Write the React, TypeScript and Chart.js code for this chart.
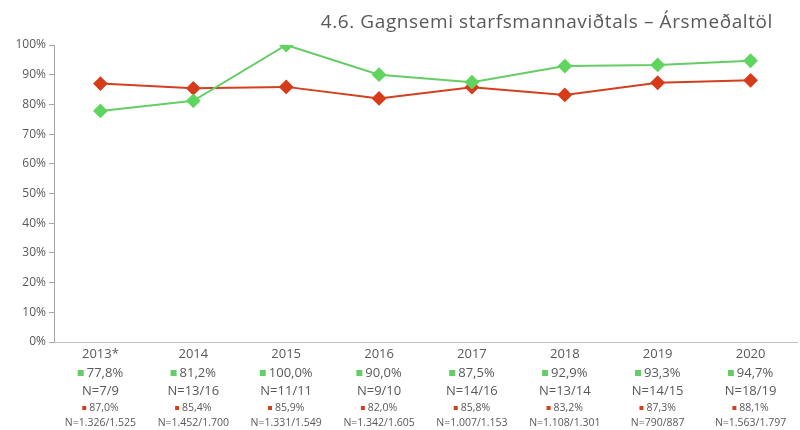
import React, { useEffect, useRef } from 'react';
import { Chart, registerables } from 'chart.js';
Chart.register(...registerables);

const categories = ['2013*', '2014', '2015', '2016', '2017', '2018', '2019', '2020'];
const greenValues = [77.8, 81.2, 100.0, 90.0, 87.5, 92.9, 93.3, 94.7];
const greenN = ['N=7/9', 'N=13/16', 'N=11/11', 'N=9/10', 'N=14/16', 'N=13/14', 'N=14/15', 'N=18/19'];
const redValues = [87.0, 85.4, 85.9, 82.0, 85.8, 83.2, 87.3, 88.1];
const redN = ['N=1.326/1.525', 'N=1.452/1.700', 'N=1.331/1.549', 'N=1.342/1.605', 'N=1.007/1.153', 'N=1.108/1.301', 'N=790/887', 'N=1.563/1.797'];
const titleText = '4.6. Gagnsemi starfsmannaviðtals – Ársmeðaltöl';

const GREEN = '#66cc66';
const GREEN_PT = '#5fd55f';
const RED = '#d2401e';
const RED_PT = '#d63b1a';
const TEXT = '#595959';
const FONT = '"Open Sans", sans-serif';

const fmt = (v: number) => v.toFixed(1).replace('.', ',') + '%';

const labelPlugin = {
  id: 'labelPlugin',
  afterDraw(chart: any) {
    const ctx = chart.ctx;
    const xs = chart.scales.x;
    ctx.save();
    ctx.textBaseline = 'middle';
    // title
    ctx.font = `19px ${FONT}`;
    ctx.fillStyle = TEXT;
    ctx.textAlign = 'right';
    try { (ctx as any).letterSpacing = '0.6px'; } catch (e) {}
    ctx.fillText(titleText, 773, 23);
    try { (ctx as any).letterSpacing = '0px'; } catch (e) {}

    categories.forEach((cat, i) => {
      const x = xs.getPixelForValue(i);
      ctx.textAlign = 'center';
      ctx.fillStyle = TEXT;
      ctx.font = `13px ${FONT}`;
      ctx.fillText(cat, x, 354);
      // green value
      const gt = fmt(greenValues[i]);
      const gw = ctx.measureText(gt).width;
      const gsq = 6, ggap = 3;
      const gstart = x - (gsq + ggap + gw) / 2;
      ctx.fillStyle = GREEN;
      ctx.fillRect(gstart, 373 - gsq / 2, gsq, gsq);
      ctx.fillStyle = TEXT;
      ctx.textAlign = 'left';
      ctx.fillText(gt, gstart + gsq + ggap, 373);
      ctx.textAlign = 'center';
      ctx.fillText(greenN[i], x, 391);
      // red value
      ctx.font = `10.5px ${FONT}`;
      const rt = fmt(redValues[i]);
      const rw = ctx.measureText(rt).width;
      const rsq = 4, rgap = 3;
      const rstart = x - (rsq + rgap + rw) / 2;
      ctx.fillStyle = RED;
      ctx.fillRect(rstart, 408 - rsq / 2, rsq, rsq);
      ctx.fillStyle = TEXT;
      ctx.textAlign = 'left';
      ctx.fillText(rt, rstart + rsq + rgap, 408);
      ctx.textAlign = 'center';
      ctx.fillText(redN[i], x, 423);
    });
    ctx.restore();
  },
};

export default function App() {
  const ref = useRef<HTMLCanvasElement | null>(null);
  useEffect(() => {
    if (!ref.current) return;
    const chart = new Chart(ref.current, {
      type: 'line',
      data: {
        labels: categories,
        datasets: [
          {
            label: 'green',
            data: greenValues,
            borderColor: GREEN,
            backgroundColor: GREEN_PT,
            pointBackgroundColor: GREEN_PT,
            pointBorderColor: GREEN_PT,
            pointStyle: 'rectRot',
            pointRadius: 6,
            borderWidth: 2,
            tension: 0,
          },
          {
            label: 'red',
            data: redValues,
            borderColor: RED,
            backgroundColor: RED_PT,
            pointBackgroundColor: RED_PT,
            pointBorderColor: RED_PT,
            pointStyle: 'rectRot',
            pointRadius: 6,
            borderWidth: 2,
            tension: 0,
          },
        ],
      },
      options: {
        responsive: false,
        animation: false,
        layout: { padding: { top: 45, bottom: 88, left: 0, right: 0 } },
        plugins: { legend: { display: false }, title: { display: false }, tooltip: { enabled: false } },
        scales: {
          x: {
            offset: true,
            grid: { display: false, drawTicks: false },
            border: { display: true, color: '#bfbfbf', width: 1 },
            ticks: { display: false },
          },
          y: {
            min: 0,
            max: 100,
            afterFit: (s: any) => { s.width = 54; },
            grid: { display: true, drawOnChartArea: false, drawTicks: true, tickLength: 5, color: '#a6a6a6' },
            border: { display: true, color: '#a6a6a6', width: 1 },
            ticks: {
              stepSize: 10,
              padding: 3,
              color: TEXT,
              font: { family: FONT, size: 12 },
              callback: (v: any) => v + '%',
            },
          },
        },
      },
      plugins: [labelPlugin],
    });
    return () => chart.destroy();
  }, []);
  return (
    <div style={{ position: 'fixed', left: 0, top: 0, width: 800, height: 430, overflow: 'hidden', background: '#fff' }}>
      <canvas ref={ref} width={805} height={430} style={{ width: 805, height: 430, display: 'block' }} />
    </div>
  );
}
